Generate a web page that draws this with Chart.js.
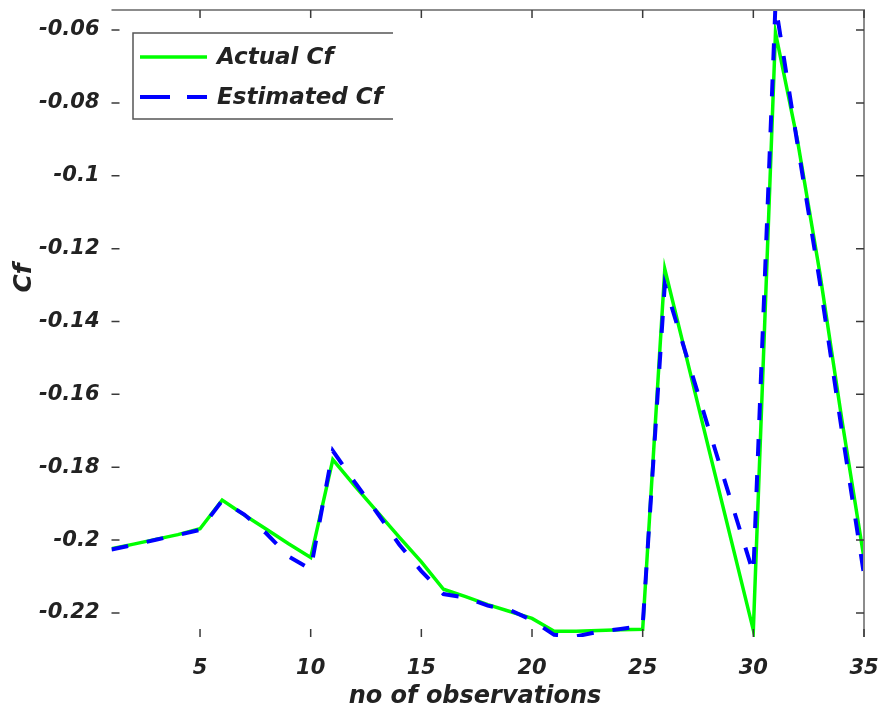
<!DOCTYPE html>
<html>
<head>
<meta charset="utf-8">
<script src="https://cdn.jsdelivr.net/npm/chart.js@4.4.0/dist/chart.umd.min.js"></script>
<style>
  html, body { margin: 0; padding: 0; background: #fff; }
</style>
</head>
<body>
<canvas id="cfChart" width="883" height="718"></canvas>
<script>
const observations = [1, 2, 3, 4, 5, 6, 7, 8, 9, 10, 11, 12, 13, 14, 15, 16, 17, 18,
  19, 20, 21, 22, 23, 24, 25, 26, 27, 28, 29, 30, 31, 32, 33, 34, 35];
const actualCf = [-0.2024, -0.2011, -0.1998, -0.1985, -0.1969, -0.1890, -0.1931, -0.1970,
  -0.2010, -0.2048, -0.1779, -0.1852, -0.1922, -0.1992, -0.2060, -0.2135, -0.2155, -0.2177,
  -0.2196, -0.2215, -0.2250, -0.2250, -0.2248, -0.2246, -0.2245, -0.1256, -0.1504, -0.1753,
  -0.2000, -0.2247, -0.0607, -0.0905, -0.1265, -0.1670, -0.2050];
const estimatedCf = [-0.2026, -0.2013, -0.1999, -0.1986, -0.1972, -0.1892, -0.1930, -0.1982,
  -0.2045, -0.2080, -0.1755, -0.1842, -0.1925, -0.2012, -0.2085, -0.2148, -0.2158, -0.2180,
  -0.2192, -0.2220, -0.2260, -0.2264, -0.2252, -0.2244, -0.2235, -0.1298, -0.1498, -0.1698,
  -0.1895, -0.2091, -0.0530, -0.0915, -0.1290, -0.1700, -0.2095];
const xTicks = [5, 10, 15, 20, 25, 30, 35];
const yTicks = [-0.22, -0.2, -0.18, -0.16, -0.14, -0.12, -0.1, -0.08, -0.06];
const xTitle = 'no of observations';
const yTitle = 'Cf';

const FONT = "'DejaVu Sans', sans-serif";

// MATLAB-like box: top/right border, inward ticks, axis titles and legend
const matlabFrame = {
  id: 'matlabFrame',
  afterDatasetsDraw(chart) {
    const { ctx, chartArea: a, scales: { x, y } } = chart;
    ctx.save();
    ctx.strokeStyle = '#8c8c8c';
    ctx.lineWidth = 2;
    ctx.beginPath();
    ctx.moveTo(a.left, a.top);
    ctx.lineTo(a.right, a.top);
    ctx.lineTo(a.right, a.bottom);
    ctx.stroke();

    ctx.strokeStyle = '#3a3a3a';
    ctx.lineWidth = 1.5;
    ctx.beginPath();
    xTicks.forEach(v => {
      const px = x.getPixelForValue(v);
      ctx.moveTo(px, a.top); ctx.lineTo(px, a.top + 8);
      ctx.moveTo(px, a.bottom); ctx.lineTo(px, a.bottom - 8);
    });
    yTicks.forEach(v => {
      const py = y.getPixelForValue(v);
      ctx.moveTo(a.left, py); ctx.lineTo(a.left + 8, py);
      ctx.moveTo(a.right, py); ctx.lineTo(a.right - 8, py);
    });
    ctx.stroke();

    // axis titles
    ctx.fillStyle = '#222';
    ctx.font = 'italic bold 24px ' + FONT;
    ctx.textAlign = 'center';
    ctx.textBaseline = 'middle';
    ctx.fillText(xTitle, 475, 697);
    ctx.save();
    ctx.translate(24, 278);
    ctx.rotate(-Math.PI / 2);
    ctx.font = 'italic bold 25px ' + FONT;
    ctx.fillText(yTitle, 0, 0);
    ctx.restore();

    // legend
    const box = { left: 133, top: 33, right: 393, bottom: 119 };
    ctx.fillStyle = '#fff';
    ctx.fillRect(box.left, box.top, box.right - box.left, box.bottom - box.top);
    ctx.strokeStyle = '#555';
    ctx.lineWidth = 1.5;
    ctx.beginPath();
    ctx.moveTo(box.right, box.top); ctx.lineTo(box.left, box.top);
    ctx.lineTo(box.left, box.bottom); ctx.lineTo(box.right, box.bottom);
    ctx.stroke();

    const rows = [57, 97];
    chart.data.datasets.forEach((ds, i) => {
      ctx.strokeStyle = ds.borderColor;
      ctx.lineWidth = ds.borderWidth;
      ctx.setLineDash(ds.borderDash ? [30, 17] : []);
      ctx.beginPath();
      ctx.moveTo(140, rows[i]); ctx.lineTo(207, rows[i]);
      ctx.stroke();
      ctx.setLineDash([]);
      ctx.fillStyle = '#222';
      ctx.font = 'italic bold 23px ' + FONT;
      ctx.textAlign = 'left';
      ctx.fillText(ds.label, 217, rows[i] + 1);
    });
    ctx.restore();
  }
};

new Chart(document.getElementById('cfChart'), {
  type: 'line',
  data: {
    datasets: [
      {
        label: 'Actual Cf',
        data: observations.map((o, i) => ({ x: o, y: actualCf[i] })),
        borderColor: '#00ff00',
        borderWidth: 3.5,
        pointRadius: 0,
        tension: 0,
        order: 1
      },
      {
        label: 'Estimated Cf',
        data: observations.map((o, i) => ({ x: o, y: estimatedCf[i] })),
        borderColor: '#0000ff',
        borderWidth: 4,
        borderDash: [17, 19],
        pointRadius: 0,
        tension: 0,
        order: 0
      }
    ]
  },
  options: {
    responsive: false,
    animation: false,
    layout: { padding: { top: 10, right: 19, left: 0, bottom: 0 } },
    plugins: { legend: { display: false }, tooltip: { enabled: false } },
    scales: {
      x: {
        type: 'linear',
        min: 1,
        max: 35,
        afterBuildTicks: s => { s.ticks = xTicks.map(v => ({ value: v })); },
        afterFit: s => { s.height = 81; s.paddingLeft = 0; s.paddingRight = 0; },
        grid: { display: false, drawTicks: false },
        border: { display: false },
        ticks: {
          padding: 19,
          color: '#222',
          font: { family: FONT, size: 21, weight: 'bold', style: 'italic' }
        }
      },
      y: {
        min: -0.2266,
        max: -0.0545,
        afterBuildTicks: s => { s.ticks = yTicks.map(v => ({ value: v })); },
        afterFit: s => { s.width = 111.5; s.paddingTop = 0; s.paddingBottom = 0; },
        grid: { display: false, drawTicks: false },
        border: { display: false },
        ticks: {
          padding: 12,
          color: '#222',
          font: { family: FONT, size: 21, weight: 'bold', style: 'italic' },
          callback: v => String(+v.toFixed(2))
        }
      }
    }
  },
  plugins: [matlabFrame]
});
</script>
</body>
</html>
